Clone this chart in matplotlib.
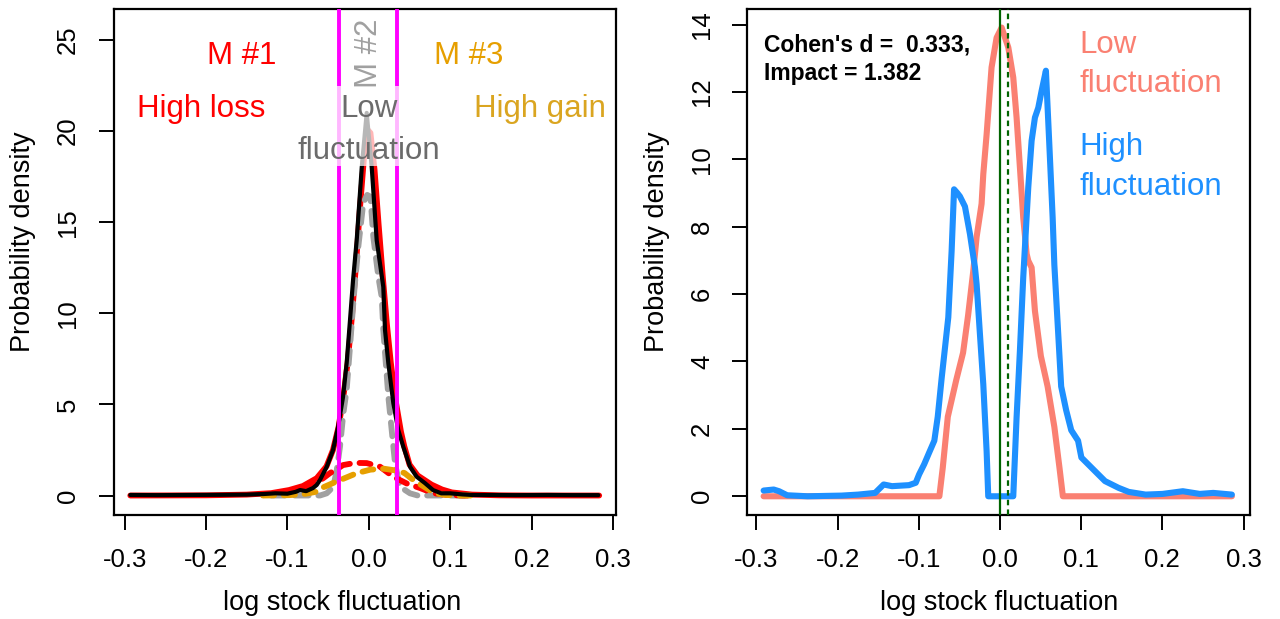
import matplotlib
matplotlib.use("Agg")
import matplotlib.pyplot as plt
from matplotlib.patches import Rectangle

plt.rcParams['font.family'] = ['Liberation Sans', 'DejaVu Sans']
plt.rcParams['lines.scale_dashes'] = False
plt.rcParams['axes.unicode_minus'] = False

# ---- left panel: mixture fit of log stock fluctuation ----
emp_x = [-0.293, -0.26, -0.22, -0.18, -0.15, -0.13, -0.115, -0.10, -0.09, -0.0845, -0.077,
         -0.0686, -0.064, -0.060, -0.0517, -0.044, -0.0378, -0.0317, -0.0272, -0.0231,
         -0.0194, -0.0149, -0.0087, -0.0026, 0.0036, 0.0097, 0.0178, 0.0199, 0.024, 0.0301,
         0.0362, 0.0424, 0.0506, 0.0588, 0.069, 0.0789, 0.089, 0.10, 0.115, 0.127, 0.15,
         0.18, 0.22, 0.25, 0.282]
emp_y = [0.03, 0.02, 0.03, 0.04, 0.05, 0.08, 0.12, 0.10, 0.20, 0.30, 0.24,
         0.41, 0.58, 0.85, 1.58, 2.49, 3.75, 5.4, 7.27, 9.63,
         11.8, 14.0, 18.0, 21.0, 18.0, 14.0, 11.45, 9.08, 7.25, 5.07,
         3.59, 2.67, 1.58, 1.03, 0.68, 0.30, 0.12, 0.12, 0.06, 0.03, 0.03,
         0.02, 0.03, 0.02, 0.02]

mix_x = [-0.293, -0.2, -0.15, -0.12, -0.098, -0.081, -0.064, -0.052, -0.044, -0.037, -0.031,
         -0.026, -0.021, -0.016, -0.011, -0.006, -0.002, 0.002, 0.007, 0.012, 0.017, 0.022,
         0.027, 0.033, 0.0395, 0.0436, 0.05, 0.06, 0.077, 0.09, 0.102, 0.127, 0.16, 0.2, 0.283]
mix_y = [0.0, 0.01, 0.05, 0.13, 0.3, 0.52, 0.95, 1.6, 2.5, 3.8, 5.5,
         7.3, 9.7, 12.5, 15.7, 18.5, 20.1, 19.9, 17.9, 14.9, 12.1, 9.5,
         7.3, 5.2, 3.5, 2.7, 1.7, 1.1, 0.6, 0.33, 0.17, 0.05, 0.01, 0.0, 0.0]

m1_x = [-0.13, -0.1, -0.08, -0.065, -0.056, -0.0477, -0.0375, -0.0317, -0.017, -0.0026,
        0.0138, 0.0301, 0.0466, 0.0629, 0.0789, 0.095, 0.115, 0.13]
m1_y = [0.02, 0.12, 0.35, 0.7, 0.95, 1.23, 1.5, 1.67, 1.79, 1.78,
        1.58, 1.03, 0.66, 0.41, 0.13, 0.04, 0.0, 0.0]

m2_x = [-0.12, -0.06, -0.0517, -0.0436, -0.0394, -0.0354, -0.0313, -0.0272, -0.0231, -0.0194,
        -0.017, -0.0129, -0.0068, -0.002, 0.002, 0.0055, 0.0117, 0.0158, 0.0178, 0.024,
        0.0281, 0.0322, 0.0383, 0.0506, 0.06, 0.12]
m2_y = [0.0, 0.0, 0.12, 0.48, 1.39, 2.67, 4.5, 5.8, 8.16, 10.36,
        11.66, 13.65, 16.05, 16.5, 16.4, 14.2, 12.0, 10.9, 9.08, 5.42,
        3.59, 1.76, 0.48, 0.12, 0.0, 0.0]

m3_x = [-0.13, -0.098, -0.081, -0.064, -0.056, -0.0396, -0.027, -0.0146, 0.002, 0.0187,
        0.0353, 0.044, 0.0518, 0.0643, 0.081, 0.095, 0.11, 0.13]
m3_y = [0.0, 0.02, 0.07, 0.21, 0.45, 0.77, 1.0, 1.23, 1.42, 1.47,
        1.36, 1.23, 0.95, 0.58, 0.12, 0.03, 0.0, 0.0]

cut_low, cut_high = -0.0365, 0.0345

# ---- right panel: low vs high fluctuation ----
low_x = [-0.291, -0.2, -0.1, -0.0746, -0.0704, -0.0642, -0.0537, -0.0454, -0.0392, -0.0329,
         -0.0287, -0.0226, -0.0205, -0.0164, -0.0103, -0.0041, 0.0021, 0.0103, 0.0164, 0.0205,
         0.0246, 0.0287, 0.0329, 0.0349, 0.039, 0.0431, 0.0504, 0.0587, 0.067, 0.0733, 0.0775,
         0.1, 0.2, 0.2856]
low_y = [0, 0, 0, 0, 0.85, 2.36, 3.46, 4.26, 5.37, 6.67,
         7.7, 8.68, 9.56, 10.74, 12.73, 13.61, 13.91, 13.32, 12.43, 11.24,
         9.76, 8.27, 7.19, 6.99, 6.79, 5.5, 4.16, 3.26, 2.06, 0.85, 0,
         0, 0, 0]

high_x = [-0.291, -0.2786, -0.272, -0.262, -0.237, -0.195, -0.1745, -0.1537, -0.1432, -0.1329,
          -0.112, -0.1037, -0.0995, -0.0933, -0.0871, -0.0808, -0.0766, -0.0718, -0.0677,
          -0.0636, -0.0595, -0.0565, -0.0525, -0.0493, -0.0431, -0.0369, -0.0308, -0.0287,
          -0.0246, -0.0205, -0.0164, -0.0144, 0.0164, 0.0205, 0.0246, 0.0287, 0.0349, 0.039,
          0.0431, 0.0472, 0.0513, 0.0566, 0.0607, 0.0649, 0.067, 0.0712, 0.0754, 0.0815,
          0.0878, 0.0962, 0.1003, 0.1086, 0.1169, 0.1294, 0.1461, 0.1586, 0.1794, 0.2003,
          0.2252, 0.2461, 0.2627, 0.2856]
high_y = [0.17, 0.2, 0.15, 0.03, 0.0, 0.02, 0.05, 0.1, 0.35, 0.3,
          0.33, 0.4, 0.65, 0.95, 1.3, 1.65, 2.36, 3.5, 4.4,
          5.31, 7.28, 9.11, 9.0, 8.9, 8.6, 7.78, 6.8, 6.29,
          4.8, 3.32, 1.34, 0.0, 0.0, 2.34, 4.32, 6.5, 9.17, 10.55,
          11.24, 11.53, 12.03, 12.63, 10.5, 8.28, 6.87, 5.07, 3.26, 2.56,
          1.96, 1.65, 1.15, 0.95, 0.75, 0.45, 0.25, 0.13, 0.05, 0.07,
          0.15, 0.07, 0.1, 0.05]

mean_low, mean_high = 0.0, 0.0095
cohen_d, impact = 0.333, 1.382

x_ticks = [-0.3, -0.2, -0.1, 0.0, 0.1, 0.2, 0.3]
x_tick_labels = ['-0.3', '-0.2', '-0.1', '0.0', '0.1', '0.2', '0.3']
left_yticks = [0, 5, 10, 15, 20, 25]
right_yticks = [0, 2, 4, 6, 8, 10, 12, 14]


def r_style(ax, xlim, ylim, yticks, xlab_pos):
    ax.set_xlim(*xlim)
    ax.set_ylim(*ylim)
    ax.set_xticks(x_ticks)
    ax.set_xticklabels(x_tick_labels)
    ax.set_yticks(yticks)
    ax.set_yticklabels([str(v) for v in yticks])
    for s in ax.spines.values():
        s.set_linewidth(1.6)
    ax.tick_params(direction='out', length=11, width=1.4, labelsize=18.5, pad=13)
    ax.tick_params(axis='y', labelrotation=90)
    plt.setp(ax.get_yticklabels(), va='center')
    ax.set_xlabel('log stock fluctuation', fontsize=19.5)
    ax.set_ylabel('Probability density', fontsize=19.5)
    ax.xaxis.set_label_coords(xlab_pos, -0.174)
    ax.xaxis.label.set_va('center')
    ax.yaxis.set_label_coords(-0.18, 0.54)
    ax.yaxis.label.set_va('center')


fig = plt.figure(figsize=(12.8, 6.19), dpi=100)
ax1 = fig.add_axes([0.0887, 0.168, 0.3927, 0.8174])
ax2 = fig.add_axes([0.5839, 0.168, 0.3927, 0.8174])

# left
ax1.plot(mix_x, mix_y, color='red', lw=4.2, solid_capstyle='round', zorder=2)
ax1.plot(m2_x, m2_y, color='#A0A0A0', lw=4.2, dashes=(10, 7), dash_capstyle='round', zorder=2.5)
ax1.plot(m1_x, m1_y, color='red', lw=4.2, dashes=(8, 7), dash_capstyle='round', zorder=2.6)
ax1.plot(m3_x, m3_y, color='#E69F00', lw=4.2, dashes=(8, 7), dash_capstyle='round', zorder=2.7)
ax1.plot(emp_x, emp_y, color='black', lw=3.0, solid_capstyle='round', zorder=3)
ax1.axvline(cut_low, color='magenta', lw=2.8, zorder=4)
ax1.axvline(cut_high, color='magenta', lw=2.8, zorder=4)
ax1.add_patch(Rectangle((-0.092, 18.08), 0.187, 4.39, facecolor='white', alpha=0.72,
                        edgecolor='none', zorder=5))
lab = dict(fontsize=22.5, ha='center', va='baseline', zorder=6)
ax1.text(-0.156, 23.7, 'M #1', color='red', **lab)
ax1.text(0.123, 23.7, 'M #3', color='#E69F00', **lab)
ax1.text(-0.206, 20.79, 'High loss', color='red', **lab)
ax1.text(0.21, 20.79, 'High gain', color='#DAA520', **lab)
ax1.text(0.0, 20.79, 'Low', color='#6B6B6B', **lab)
ax1.text(0.0, 18.47, 'fluctuation', color='#6B6B6B', **lab)
ax1.text(0.0, 24.3, 'M #2', color='#A0A0A0', fontsize=22.5, rotation=90,
         ha='center', va='center', zorder=6)
r_style(ax1, (-0.3136, 0.3039), (-1.07, 26.7), left_yticks, 0.4545)

# right
ax2.plot(low_x, low_y, color='#FA8072', lw=4.4, solid_capstyle='round', zorder=2)
ax2.plot(high_x, high_y, color='#1E90FF', lw=4.4, solid_capstyle='round', zorder=3)
ax2.axvline(mean_low, color='#006400', lw=1.6, zorder=4)
ax2.axvline(mean_high, color='#006400', lw=1.6, dashes=(4, 3), zorder=4)
ax2.text(-0.29, 13.2, "Cohen's d =  %.3f," % cohen_d, fontsize=16.5, fontweight='bold',
         ha='left', va='baseline')
ax2.text(-0.29, 12.35, 'Impact = %.3f' % impact, fontsize=16.5, fontweight='bold',
         ha='left', va='baseline')
rlab = dict(fontsize=22.5, ha='left', va='baseline')
ax2.text(0.0983, 13.15, 'Low', color='#FA8072', **rlab)
ax2.text(0.0983, 11.99, 'fluctuation', color='#FA8072', **rlab)
ax2.text(0.0983, 10.14, 'High', color='#1E90FF', **rlab)
ax2.text(0.0983, 8.93, 'fluctuation', color='#1E90FF', **rlab)
r_style(ax2, (-0.311, 0.308), (-0.556, 14.46), right_yticks, 0.5)

fig.savefig('out.png', dpi=100)
